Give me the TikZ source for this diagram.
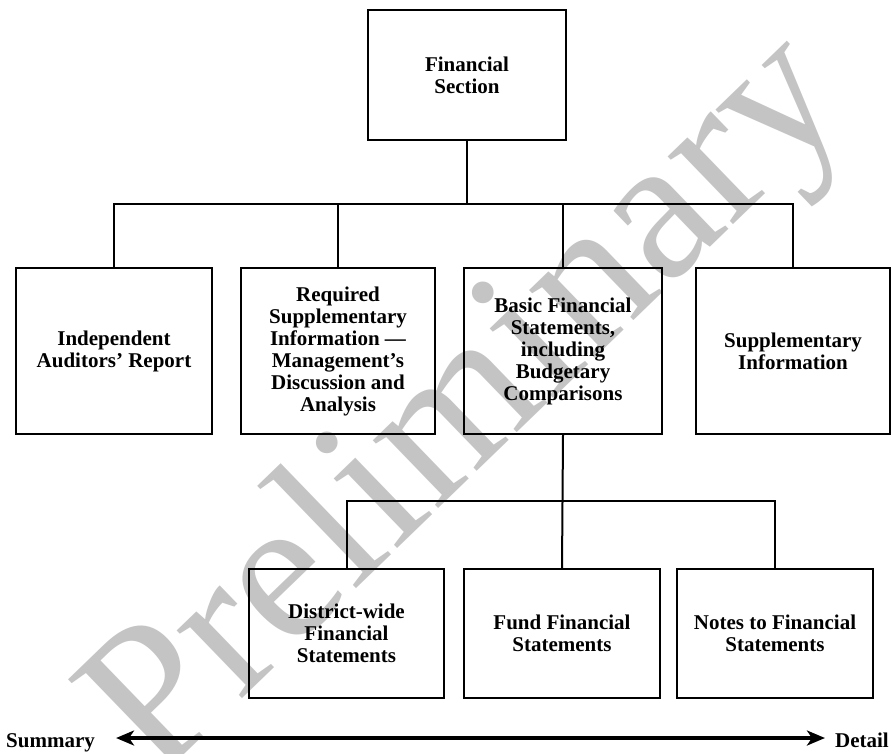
\documentclass[tikz,border=0pt]{standalone}
\usepackage{fontspec}
\setmainfont{Liberation Serif}
\usetikzlibrary{arrows.meta}
\definecolor{wmgray}{RGB}{196,196,196}
\begin{document}
\begin{tikzpicture}[x=1pt,y=-1pt,
  box/.style={draw, line width=2pt, align=center, font=\bfseries\fontsize{21}{22}\selectfont, inner sep=0pt},
  conn/.style={line width=2pt},
  lbl/.style={font=\bfseries\fontsize{21}{22}\selectfont, inner sep=0pt}]
\useasboundingbox (0,0) rectangle (891,753);
\fill[white] (0,0) rectangle (891,753);
\begin{scope}
\clip (0,0) rectangle (891,753);
\node[rotate=44, anchor=base west, inner sep=0pt, text=wmgray, font=\fontsize{205}{205}\selectfont] (wm) at (157,781) {Preliminary};
\end{scope}

\node[box, minimum width=198pt, minimum height=130pt] (top) at (467,75) {Financial\\Section};

\node[box, minimum width=196pt, minimum height=166pt] (b1) at (114,351) {Independent\\Auditors’ Report};
\node[box, minimum width=194pt, minimum height=166pt] (b2) at (338,351) {Required\\Supplementary\\Information —\\Management’s\\Discussion and\\Analysis};
\node[box, minimum width=198pt, minimum height=166pt] (b3) at (563,351) {Basic Financial\\Statements,\\including\\Budgetary\\Comparisons};
\node[box, minimum width=194pt, minimum height=166pt] (b4) at (793,351) {Supplementary\\Information};

\node[box, minimum width=195pt, minimum height=129pt] (c1) at (346.5,633.5) {District-wide\\Financial\\Statements};
\node[box, minimum width=196pt, minimum height=129pt] (c2) at (562,633.5) {Fund Financial\\Statements};
\node[box, minimum width=196pt, minimum height=129pt] (c3) at (775,633.5) {Notes to Financial\\Statements};

% level 1 connectors
\coordinate (j1) at (467,204);
\draw[conn] (top.south) -- (j1);
\draw[conn] (b1.north) |- (j1) -| (b4.north);
\draw[conn] (b2.north) -- (b2.north |- j1);
\draw[conn] (b3.north) -- (b3.north |- j1);

% level 2 connectors
\coordinate (j2) at (562,501);
\draw[conn] (b3.south) -- (c2.north);
\draw[conn] (c1.north) |- (j2) -| (c3.north);

% summary / detail arrow
\node[lbl, anchor=base west] (sum) at (6,747) {Summary};
\node[lbl, anchor=base east] (det) at (889,747) {Detail};
\draw[line width=3.2pt, {Stealth[length=18pt,width=15pt,inset=5pt]}-{Stealth[length=18pt,width=15pt,inset=5pt]}]
  ([xshift=21pt,yshift=9pt]sum.base east) -- ([xshift=-10pt,yshift=9pt]det.base west);
\end{tikzpicture}
\end{document}
